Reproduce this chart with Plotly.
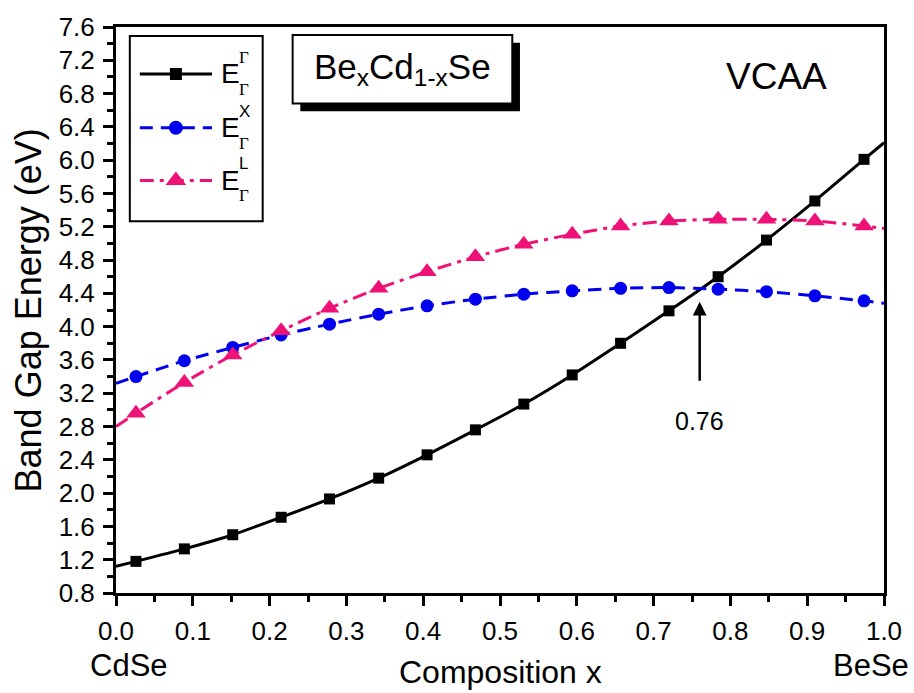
import plotly.graph_objects as go

# Composition values where symbols are drawn
x_pts = [0.026, 0.089, 0.152, 0.215, 0.278, 0.342, 0.405, 0.468,
         0.531, 0.594, 0.657, 0.720, 0.784, 0.847, 0.910, 0.974]
# Curve end points (pure CdSe and pure BeSe)
x_ends = [0.0, 1.0]

# Band gaps (eV)
gamma_gamma = [1.18, 1.33, 1.50, 1.71, 1.93, 2.18, 2.46, 2.76,
               3.07, 3.42, 3.80, 4.19, 4.60, 5.04, 5.51, 6.01]
gamma_gamma_ends = [1.12, 6.21]

gamma_x = [3.40, 3.59, 3.75, 3.90, 4.03, 4.15, 4.25, 4.33,
           4.39, 4.43, 4.46, 4.47, 4.45, 4.42, 4.37, 4.31]
gamma_x_ends = [3.32, 4.28]

gamma_l = [2.96, 3.33, 3.66, 3.95, 4.22, 4.46, 4.66, 4.84,
           4.99, 5.11, 5.21, 5.27, 5.29, 5.29, 5.27, 5.21]
gamma_l_ends = [2.80, 5.18]

crossing_x = 0.76
crossing_label = "0.76"

x_ticks = [round(0.1 * i, 1) for i in range(11)]
y_ticks = [round(0.8 + 0.4 * i, 1) for i in range(18)]

FONT = "Liberation Sans"
SERIF = "Liberation Serif"

series = [
    # values, end values, colour, dash, symbol, size, superscript
    (gamma_gamma, gamma_gamma_ends, "#000000", "solid", "square", 11, "Γ"),
    (gamma_x, gamma_x_ends, "#0000ee", "13px,8px", "circle", 13, "X"),
    (gamma_l, gamma_l_ends, "#ee1177", "14px,6px,4px,6px", "triangle-up", 17, "L"),
]

fig = go.Figure()

for vals, ends, color, dash, symbol, size, sup in series:
    lx = [x_ends[0]] + x_pts + [x_ends[1]]
    ly = [ends[0]] + vals + [ends[1]]
    fig.add_trace(go.Scatter(
        x=lx, y=ly, mode="lines",
        line=dict(color=color, width=3, dash=dash, shape="spline", smoothing=0.6),
        showlegend=False, hoverinfo="skip"))
    fig.add_trace(go.Scatter(
        x=x_pts, y=vals, mode="markers",
        marker=dict(symbol=symbol, size=size, color=color, opacity=1, line=dict(width=0)),
        showlegend=False))

# Hand-built legend on an overlay axis spanning the plot area (0..1)
legend_rows = [0.917, 0.822, 0.729]
for (vals, ends, color, dash, symbol, size, sup), ry in zip(series, legend_rows):
    fig.add_trace(go.Scatter(
        x=[0.031, 0.125], y=[ry, ry], mode="lines",
        xaxis="x2", yaxis="y2",
        line=dict(color=color, width=3, dash=dash),
        showlegend=False, hoverinfo="skip"))
    fig.add_trace(go.Scatter(
        x=[0.078], y=[ry], mode="markers",
        xaxis="x2", yaxis="y2",
        marker=dict(symbol=symbol, size=size + 1, color=color, opacity=1,
                    line=dict(width=0)),
        showlegend=False, hoverinfo="skip"))
    fig.add_annotation(xref="x domain", yref="y domain", x=0.134, y=ry,
                       text="E", showarrow=False, xanchor="left", yanchor="middle",
                       font=dict(family=FONT, size=28, color="black"))
    sup_font = dict(family=SERIF if sup == "Γ" else FONT, size=17, color="black")
    fig.add_annotation(xref="x domain", yref="y domain", x=0.158, y=ry + 0.029,
                       text=sup, showarrow=False, xanchor="left", yanchor="middle",
                       font=sup_font)
    fig.add_annotation(xref="x domain", yref="y domain", x=0.157, y=ry - 0.027,
                       text="Γ", showarrow=False, xanchor="left", yanchor="middle",
                       font=dict(family=SERIF, size=17, color="black"))

shapes = [
    # legend frame
    dict(type="rect", xref="x domain", yref="y domain", x0=0.018, x1=0.191,
         y0=0.657, y1=0.984, line=dict(color="black", width=2), fillcolor="rgba(0,0,0,0)"),
    # title box shadow and box
    dict(type="rect", xref="x domain", yref="y domain", x0=0.240, x1=0.526,
         y0=0.851, y1=0.972, line=dict(color="black", width=0), fillcolor="black"),
    dict(type="rect", xref="x domain", yref="y domain", x0=0.230, x1=0.516,
         y0=0.865, y1=0.986, line=dict(color="black", width=2), fillcolor="white"),
]
fig.update_layout(shapes=shapes)

# Formula in the title box, with deep subscripts
fig.add_annotation(xref="x domain", yref="y domain", x=0.373, y=0.925,
                   text="Be<sub>x</sub>Cd<sub>1-x</sub>Se", showarrow=False,
                   xanchor="center", yanchor="middle",
                   font=dict(family=FONT, size=35, color="black"))
fig.add_annotation(xref="x domain", yref="y domain", x=0.86, y=0.912,
                   text="VCAA", showarrow=False, xanchor="center", yanchor="middle",
                   font=dict(family=FONT, size=37, color="black"))

# Crossing marker arrow and value
fig.add_annotation(x=crossing_x, y=4.30, ax=crossing_x, ay=3.23,
                   xref="x", yref="y", axref="x", ayref="y", text=" ",
                   showarrow=True, arrowhead=2, arrowsize=1.1, arrowwidth=2.5,
                   arrowcolor="black")
fig.add_annotation(x=crossing_x, y=2.87, xref="x", yref="y", text=crossing_label,
                   showarrow=False, font=dict(family=FONT, size=25, color="black"))

# End-member labels and axis titles
fig.add_annotation(xref="paper", yref="paper", x=-0.037, y=-0.128, text="CdSe",
                   showarrow=False, xanchor="left", yanchor="middle",
                   font=dict(family=FONT, size=31, color="black"))
fig.add_annotation(xref="paper", yref="paper", x=1.035, y=-0.128, text="BeSe",
                   showarrow=False, xanchor="right", yanchor="middle",
                   font=dict(family=FONT, size=31, color="black"))
fig.add_annotation(xref="paper", yref="paper", x=0.5, y=-0.140, text="Composition x",
                   showarrow=False, xanchor="center", yanchor="middle",
                   font=dict(family=FONT, size=32, color="black"))
fig.add_annotation(xref="paper", yref="paper", x=-0.114, y=0.5,
                   text="Band Gap Energy (eV)", textangle=-90, showarrow=False,
                   xanchor="center", yanchor="middle",
                   font=dict(family=FONT, size=36, color="black"))

axis_common = dict(
    showgrid=False, zeroline=False, showline=True, linecolor="black", linewidth=3,
    mirror=True, ticks="outside", tickcolor="black", tickwidth=2.5, ticklen=10,
    tickfont=dict(family=FONT, size=26, color="black"), tickformat=".1f",
    ticklabelstandoff=3,
)

fig.update_layout(
    width=914, height=693,
    margin=dict(l=116, r=29, t=24, b=100),
    paper_bgcolor="white", plot_bgcolor="white",
    xaxis=dict(range=[0, 1], tickvals=x_ticks,
               minor=dict(ticks="outside", dtick=0.05, ticklen=6, tickwidth=2.5,
                          tickcolor="black"),
               **axis_common),
    yaxis=dict(range=[0.8, 7.6], tickvals=y_ticks,
               minor=dict(ticks="outside", dtick=0.2, ticklen=6, tickwidth=2.5,
                          tickcolor="black"),
               **axis_common),
    xaxis2=dict(overlaying="x", range=[0, 1], visible=False, fixedrange=True),
    yaxis2=dict(overlaying="y", range=[0, 1], visible=False, fixedrange=True),
    showlegend=False,
)

fig.write_html("out.html")
